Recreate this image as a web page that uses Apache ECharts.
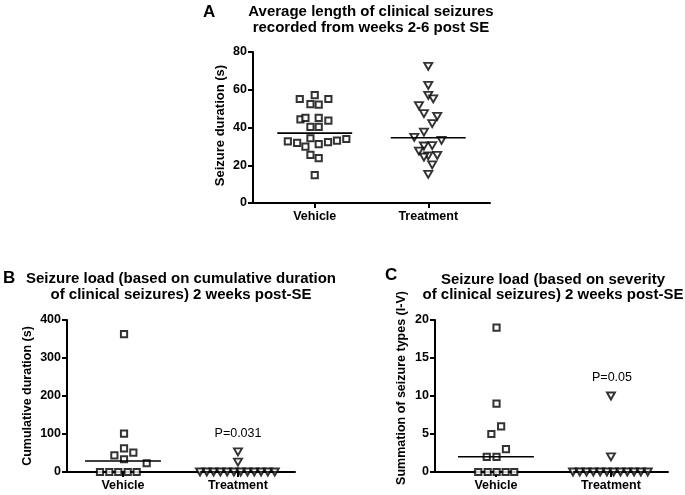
<!DOCTYPE html>
<html><head><meta charset="utf-8">
<script src="https://cdn.jsdelivr.net/npm/echarts@6/dist/echarts.min.js"></script>
<style>html,body{margin:0;padding:0;background:#fff}#c{width:685px;height:495px}</style>
</head><body><div id="c"></div>
<script>
// ---- data ----
const categories = ['Vehicle', 'Treatment'];
// Panel A: seizure duration (s); dx = horizontal scatter offset from the group centre
const vehA_y  = [55.1,57.2,52.4,52.1,55.1,44.3,45.1,45.1,40.3,40.3,43.6,32.6,31.9,29.9,34.3,31.2,32.2,33.0,33.9,25.5,23.8,14.8];
const vehA_dx = [-0.132,0,-0.038,0.035,0.12,-0.126,-0.082,0.035,-0.038,0.035,0.12,-0.237,-0.155,-0.082,-0.038,0.035,0.117,0.196,0.278,-0.038,0.035,0];
const trtA_y  = [72.4,62.3,57.0,55.2,51.6,47.4,45.9,42.1,37.6,34.8,33.2,30.2,30.4,27.5,25.0,24.3,25.2,20.2,15.2];
const trtA_dx = [0,0,0,0.044,-0.082,-0.038,0.079,0.035,-0.038,-0.123,0.117,-0.038,0.035,-0.082,0,-0.038,0.079,0.035,0];
const meanA   = [37.0, 34.6];
// Panel B: cumulative duration (s)
const vehB_y  = [363,101,62,44,33.5,51,23,0,0,0,0,0];
const vehB_dx = [0.009,0.009,0.009,-0.075,0.009,0.09,0.206,-0.2,-0.119,-0.041,0.041,0.119];
const trtB_y  = [53,26,0,0,0,0,0,0,0,0,0,0,0,0];
const trtB_dx = [0,0,-0.33,-0.271,-0.212,-0.153,-0.094,-0.035,0.024,0.083,0.142,0.201,0.26,0.32];
const medB    = [29, 0];
// Panel C: summation of seizure types (I-V)
const vehC_y  = [19,9,5,6,3,2,2,0,0,0,0,0];
const vehC_dx = [0.005,0.005,-0.04,0.045,0.087,-0.08,0.005,-0.154,-0.072,0.006,0.084,0.159];
const trtC_y  = [10,2,0,0,0,0,0,0,0,0,0,0,0,0];
const trtC_dx = [0,0,-0.33,-0.271,-0.212,-0.153,-0.094,-0.035,0.024,0.083,0.142,0.201,0.26,0.32];
const medC    = [2, 0];
const yTicksA = [0, 80, 20];
const yTicksB = [0, 400, 100];
const yTicksC = [0, 20, 5];

// ---- chart ----
const FONT = 'Liberation Sans, Arial, Helvetica, sans-serif';
const chart = echarts.init(document.getElementById('c'), null, {renderer: 'canvas'});
const pts = (ys, dxs, c) => ys.map((y, i) => [c + dxs[i], y]);
const HALF = 0.33;
const lineData = (c, m) => [[c - HALF, m], [c + HALF, m]];

function xAx(gi, min, max) {
  return {
    type: 'value', gridIndex: gi, min: min, max: max,
    axisLine: {show: true, onZero: false, lineStyle: {color: '#000', width: 2}},
    axisTick: {show: true, customValues: [1, 2], length: 5, lineStyle: {color: '#000', width: 2}},
    axisLabel: {customValues: [1, 2], formatter: v => categories[Math.round(v) - 1],
      color: '#000', fontWeight: 'bold', fontSize: 12.5, fontFamily: FONT, margin: 7},
    splitLine: {show: false}
  };
}
function yAx(gi, t, name, gap, nsize, pad) {
  return {
    type: 'value', gridIndex: gi, min: t[0], max: t[1], interval: t[2],
    name: name, nameLocation: 'middle', nameRotate: 90, nameGap: gap,
    nameTextStyle: {color: '#000', fontWeight: 'bold', fontSize: nsize, fontFamily: FONT, padding: pad || 0},
    axisLine: {show: true, lineStyle: {color: '#000', width: 2}},
    axisTick: {show: true, length: 5, lineStyle: {color: '#000', width: 2}},
    axisLabel: {color: '#000', fontWeight: 'bold', fontSize: 12.5, fontFamily: FONT, margin: 6},
    splitLine: {show: false}
  };
}
const sq = {type: 'scatter', symbol: 'rect', symbolSize: 6.2, itemStyle: {color: '#fff', borderColor: '#000', borderWidth: 2}, z: 3};
const tri = {type: 'scatter', symbol: 'triangle', symbolRotate: 180, symbolSize: [8, 7], itemStyle: {color: '#fff', borderColor: '#000', borderWidth: 1.9}, z: 3};
const ln = {type: 'line', symbol: 'none', lineStyle: {color: '#000', width: 1.6}, z: 4, silent: true};

function txt(x, y, s, size, bold, align) {
  return {type: 'text', x: x, y: y, style: {text: s, fill: '#000', font: (bold ? 'bold ' : '') + size + 'px ' + FONT,
    textAlign: align || 'center', textVerticalAlign: 'middle'}};
}

chart.setOption({
  animation: false,
  backgroundColor: '#fff',
  grid: [
    {left: 253, top: 52, width: 237, height: 151},
    {left: 67, top: 320, width: 228, height: 152},
    {left: 435, top: 320, width: 233, height: 152}
  ],
  xAxis: [xAx(0, 0.456, 2.544), xAx(1, 0.513, 2.496), xAx(2, 0.47, 2.496)],
  yAxis: [
    yAx(0, yTicksA, 'Seizure duration (s)', 26, 13, [0, 0, 0, 4]),
    yAx(1, yTicksB, 'Cumulative duration (s)', 33, 12.5),
    yAx(2, yTicksC, 'Summation of seizure types (I-V)', 27, 12.5, [0, 0, 0, 16])
  ],
  series: [
    Object.assign({}, sq, {xAxisIndex: 0, yAxisIndex: 0, data: pts(vehA_y, vehA_dx, 1)}),
    Object.assign({}, tri, {xAxisIndex: 0, yAxisIndex: 0, data: pts(trtA_y, trtA_dx, 2)}),
    Object.assign({}, ln, {xAxisIndex: 0, yAxisIndex: 0, data: lineData(1, meanA[0])}),
    Object.assign({}, ln, {xAxisIndex: 0, yAxisIndex: 0, data: lineData(2, meanA[1])}),
    Object.assign({}, sq, {xAxisIndex: 1, yAxisIndex: 1, data: pts(vehB_y, vehB_dx, 1)}),
    Object.assign({}, tri, {xAxisIndex: 1, yAxisIndex: 1, data: pts(trtB_y, trtB_dx, 2)}),
    Object.assign({}, ln, {xAxisIndex: 1, yAxisIndex: 1, data: lineData(1, medB[0])}),
    Object.assign({}, ln, {xAxisIndex: 1, yAxisIndex: 1, data: lineData(2, medB[1])}),
    Object.assign({}, sq, {xAxisIndex: 2, yAxisIndex: 2, data: pts(vehC_y, vehC_dx, 1)}),
    Object.assign({}, tri, {xAxisIndex: 2, yAxisIndex: 2, data: pts(trtC_y, trtC_dx, 2)}),
    Object.assign({}, ln, {xAxisIndex: 2, yAxisIndex: 2, data: lineData(1, medC[0])}),
    Object.assign({}, ln, {xAxisIndex: 2, yAxisIndex: 2, data: lineData(2, medC[1])})
  ],
  graphic: [
    txt(203, 12, 'A', 17, true, 'left'),
    txt(371, 12, 'Average length of clinical seizures', 15, true),
    txt(371, 27.5, 'recorded from weeks 2-6 post SE', 15, true),
    txt(3, 278, 'B', 17, true, 'left'),
    txt(181, 278.5, 'Seizure load (based on cumulative duration', 15, true),
    txt(181, 295, 'of clinical seizures) 2 weeks post-SE', 15, true),
    txt(238, 434, 'P=0.031', 12.5, false),
    txt(385, 275, 'C', 17, true, 'left'),
    txt(553, 279.5, 'Seizure load (based on severity', 15, true),
    txt(553, 295, 'of clinical seizures) 2 weeks post-SE', 15, true),
    txt(612, 378, 'P=0.05', 12.5, false)
  ]
});
</script>
</body></html>
